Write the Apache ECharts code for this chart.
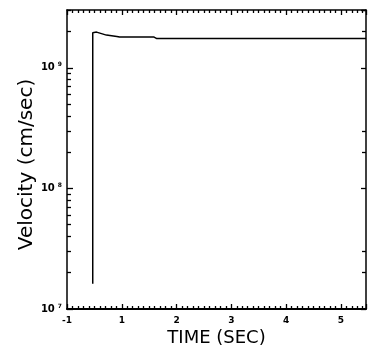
<!DOCTYPE html>
<html>
<head>
<meta charset="utf-8">
<script src="https://cdn.jsdelivr.net/npm/echarts@6/dist/echarts.min.js"></script>
<style>html,body{margin:0;padding:0;background:#fff}#c{width:371px;height:348px}</style>
</head>
<body>
<div id="c"></div>
<script>
// Data
var timeSec = [0.47, 0.47, 0.54, 0.72, 0.91, 0.96, 1.59, 1.64, 5.46];
var velocity = [1.62e7, 1.96e9, 1.98e9, 1.87e9, 1.82e9, 1.80e9, 1.80e9, 1.75e9, 1.75e9];
var xTickLabels = ['-1', '1', '2', '3', '4', '5'];
var yDecades = [1e7, 1e8, 1e9];
var yMinorMultipliers = [2, 3, 4, 5, 6, 7, 8, 9];
var yRightMultipliers = [2, 3];
var yMin = 1e7, yMax = 3.02e9;

// helper tick positions (log10 space) for the minor tick axes
function tickExps(mults) {
  var out = [];
  yDecades.forEach(function (d) {
    mults.forEach(function (m) { if (d * m <= yMax) out.push(Math.log10(d * m)); });
  });
  return out;
}
var leftMinor = tickExps(yMinorMultipliers);
var rightMinor = tickExps(yRightMultipliers);

var seriesData = timeSec.map(function (t, i) { return [t, velocity[i]]; });

var chart = echarts.init(document.getElementById('c'));
var font = 'DejaVu Sans';
var tickStyle = { color: '#000', width: 1.3 };
function helperAxis(pos, ticks, len) {
  return {
    type: 'value', min: Math.log10(yMin), max: Math.log10(yMax), position: pos,
    axisLine: { show: false, onZero: false },
    axisTick: { show: true, inside: true, length: len, customValues: ticks, lineStyle: tickStyle },
    axisLabel: { show: false },
    splitLine: { show: false }
  };
}
chart.setOption({
  animation: false,
  backgroundColor: '#fff',
  grid: { left: 67, right: 5, top: 10, bottom: 39, outerBoundsMode: 'none' },
  xAxis: [{
    type: 'value', min: 0, max: 5.46, interval: 1, position: 'bottom',
    name: 'TIME (SEC)', nameLocation: 'middle', nameGap: 20, nameMoveOverlap: false,
    nameTextStyle: { fontFamily: font, fontSize: 18, color: '#000' },
    axisLine: { show: true, onZero: false, lineStyle: { color: '#000', width: 2 } },
    axisTick: { show: true, inside: true, length: 5, lineStyle: tickStyle },
    minorTick: { show: true, splitNumber: 10, length: 3, lineStyle: tickStyle },
    splitLine: { show: false },
    axisLabel: {
      margin: 7, fontFamily: font, fontSize: 9, fontWeight: 'bold', color: '#000',
      showMaxLabel: false,
      formatter: function (v) { return xTickLabels[Math.round(v)] || ''; }
    }
  }, {
    type: 'value', min: 0, max: 5.46, interval: 1, position: 'top',
    axisLine: { show: true, onZero: false, lineStyle: { color: '#000', width: 1.5 } },
    axisTick: { show: true, inside: true, length: 5, lineStyle: tickStyle },
    minorTick: { show: true, splitNumber: 10, length: 3, lineStyle: tickStyle },
    splitLine: { show: false },
    axisLabel: { show: false }
  }],
  yAxis: [{
    type: 'log', logBase: 10, min: yMin, max: yMax, position: 'left',
    name: 'Velocity (cm/sec)', nameLocation: 'middle', nameGap: 30, nameMoveOverlap: false,
    nameTextStyle: { fontFamily: font, fontSize: 20, color: '#000', padding: [0, 10, 0, 0] },
    axisLine: { show: true, onZero: false, lineStyle: { color: '#000', width: 1.5 } },
    axisTick: { show: true, inside: true, length: 6, lineStyle: tickStyle },
    splitLine: { show: false },
    axisLabel: {
      margin: 5, color: '#000', showMaxLabel: false,
      formatter: function (v) {
        var e = Math.round(Math.log10(v));
        return '{b|10}{s|' + e + '}';
      },
      rich: {
        b: { fontFamily: font, fontSize: 10, fontWeight: 'bold', color: '#000', lineHeight: 12 },
        s: { fontFamily: font, fontSize: 6, fontWeight: 'bold', color: '#000', verticalAlign: 'top', lineHeight: 12, padding: [0, 0, 0, 3] }
      }
    }
  }, {
    type: 'log', logBase: 10, min: yMin, max: yMax, position: 'right',
    axisLine: { show: true, onZero: false, lineStyle: { color: '#000', width: 1.5 } },
    axisTick: { show: true, inside: true, length: 5, lineStyle: tickStyle },
    splitLine: { show: false },
    axisLabel: { show: false }
  },
  helperAxis('left', leftMinor, 4),
  helperAxis('right', rightMinor, 4)
  ],
  series: [{
    type: 'line', xAxisIndex: 0, yAxisIndex: 0,
    data: seriesData, showSymbol: false, symbol: 'none',
    lineStyle: { color: '#000', width: 1.5 }
  }]
});
</script>
</body>
</html>
